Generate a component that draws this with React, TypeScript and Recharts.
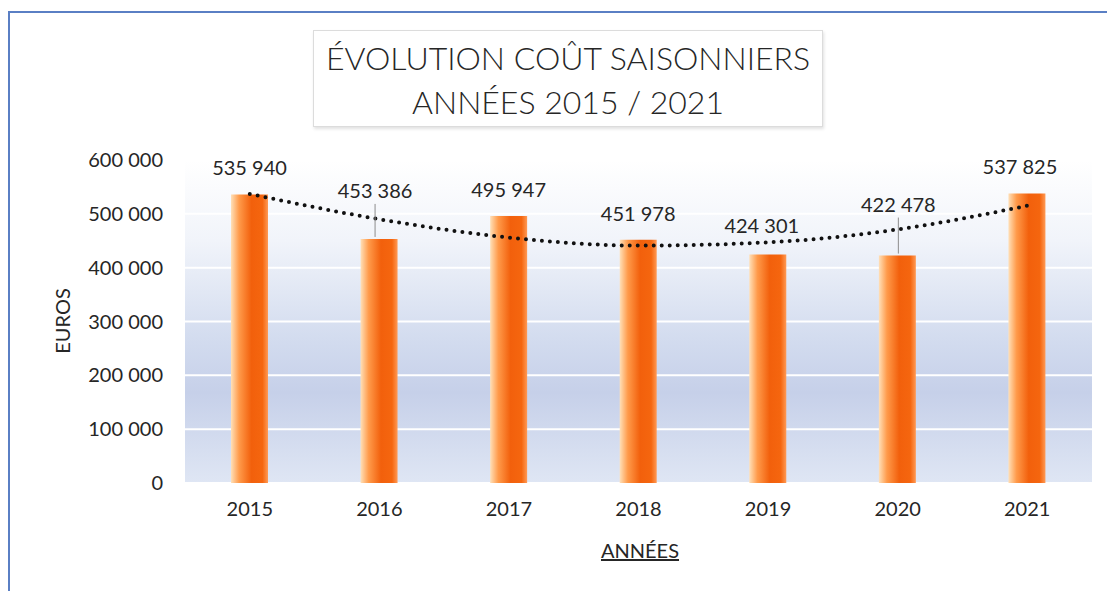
import React from "react"
import {
  ComposedChart, Bar, Line, XAxis, YAxis, CartesianGrid, LabelList,
} from "recharts"

const years = ["2015", "2016", "2017", "2018", "2019", "2020", "2021"]
const costs = [535940, 453386, 495947, 451978, 424301, 422478, 537825]
// courbe de tendance
const trend = [537000, 490000, 456000, 441000, 447000, 471000, 515000]
const yTicks = [0, 100000, 200000, 300000, 400000, 500000, 600000]

const data = years.map((year, i) => ({ year, cout: costs[i], tendance: trend[i] }))

const FONT = "Lato, 'Open Sans', sans-serif"

function fmt(v: unknown): string {
  const n = Math.round(Number(v) || 0)
  return String(n).replace(/\B(?=(\d{3})+(?!\d))/g, " ")
}

// étiquettes déplacées à la main dans l'original
const labelLift: Record<number, number> = { 1: 49, 4: 30, 5: 52 }
const labelShift: Record<number, number> = { 1: -4, 4: -6, 5: 1, 6: -7 }

function ValueLabel(props: any) {
  const { x, y, width, value, index } = props
  const lift = labelLift[index] ?? 27
  const cx = Number(x) + Number(width) / 2 + (labelShift[index] ?? 0)
  const ty = Number(y) - lift
  const moved = index === 1 || index === 5
  return (
    <g>
      {moved && (
        <line x1={cx} x2={cx} y1={ty + 14} y2={Number(y) - 2} stroke="#8c8c8c" strokeWidth={1} />
      )}
      <text x={cx} y={ty} textAnchor="middle" dominantBaseline="central"
        fontFamily={FONT} fontSize={20} fill="#262626">
        {fmt(value)}
      </text>
    </g>
  )
}

export default function App() {
  return (
    <div style={{ position: "absolute", top: 0, left: 0, width: 1107, height: 591, background: "#fff", overflow: "hidden" }}>
      {/* cadre bleu */}
      <div style={{ position: "absolute", left: 8, top: 11, right: -10, bottom: -10, borderTop: "2px solid #5a7fc4", borderLeft: "2px solid #5a7fc4" }} />

      {/* titre */}
      <div style={{
        position: "absolute", left: 313, top: 30, width: 510, height: 97,
        border: "1px solid #dcdcdc", boxShadow: "1px 2px 3px rgba(0,0,0,0.12)", background: "#fff",
        fontFamily: FONT, fontWeight: 300, fontSize: 32, color: "#262626", textAlign: "center", lineHeight: "44px",
        paddingTop: 5, boxSizing: "border-box",
      }}>
        <div>ÉVOLUTION COÛT SAISONNIERS</div>
        <div>ANNÉES 2015 / 2021</div>
      </div>

      <div style={{ position: "absolute", left: 0, top: 0 }}>
        <ComposedChart width={1107} height={591} data={data}
          margin={{ top: 160, right: 15, bottom: 78, left: 0 }}>
          <defs>
            <linearGradient id="plotBg" x1="0" y1="0" x2="0" y2="1">
              <stop offset="0%" stopColor="#ffffff" />
              <stop offset="25%" stopColor="#f1f4fa" />
              <stop offset="55%" stopColor="#d3dcef" />
              <stop offset="72%" stopColor="#c6d0e9" />
              <stop offset="100%" stopColor="#dfe6f4" />
            </linearGradient>
            <linearGradient id="barFill" x1="0" y1="0" x2="1" y2="0">
              <stop offset="0%" stopColor="#ffe0b8" />
              <stop offset="22%" stopColor="#ff9a4a" />
              <stop offset="55%" stopColor="#f2600c" />
              <stop offset="85%" stopColor="#f5660f" />
              <stop offset="100%" stopColor="#ff9a55" />
            </linearGradient>
          </defs>
          <CartesianGrid vertical={false} stroke="#ffffff" strokeWidth={2} fill="url(#plotBg)" />
          <XAxis dataKey="year" axisLine={false} tickLine={false} tickSize={0} tickMargin={19}
            tick={{ fontSize: 20, fill: "#262626", fontFamily: FONT }} />
          <YAxis width={185} domain={[0, 600000]} ticks={yTicks} tickFormatter={fmt}
            axisLine={false} tickLine={false} tickSize={0} tickMargin={22}
            tick={{ fontSize: 20, fill: "#262626", fontFamily: FONT }} />
          <Bar dataKey="cout" fill="url(#barFill)" barSize={37} isAnimationActive={false}>
            <LabelList dataKey="cout" content={ValueLabel} />
          </Bar>
          <Line dataKey="tendance" type="monotone" stroke="#111" strokeWidth={4}
            strokeDasharray="0 8" strokeLinecap="round" dot={false} activeDot={false}
            isAnimationActive={false} />
        </ComposedChart>
      </div>

      {/* titres des axes */}
      <div style={{
        position: "absolute", left: 62, top: 321, transform: "translate(-50%, -50%) rotate(-90deg)",
        fontFamily: FONT, fontSize: 20, color: "#262626", whiteSpace: "nowrap",
      }}>EUROS</div>
      <div style={{
        position: "absolute", left: 640, top: 550, transform: "translate(-50%, -50%)",
        fontFamily: FONT, fontSize: 20, color: "#262626", textDecoration: "underline", whiteSpace: "nowrap",
      }}>ANNÉES</div>
    </div>
  )
}
